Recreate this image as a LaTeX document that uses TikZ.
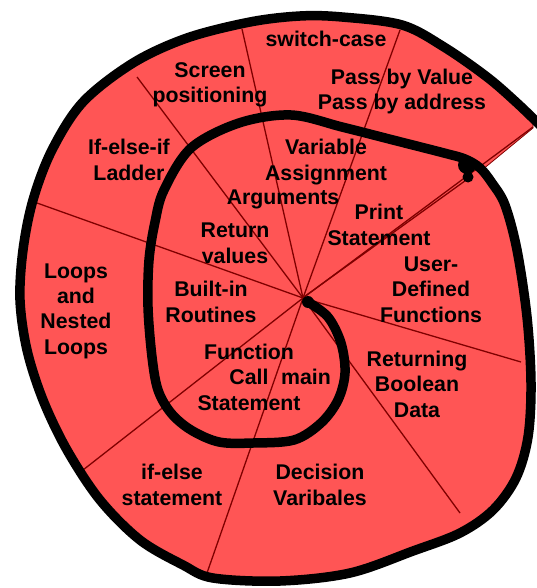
\documentclass[tikz,border=0pt]{standalone}
\usepackage{fontspec}
\setmainfont{Liberation Sans}
\definecolor{wedgered}{RGB}{255,85,85}
\definecolor{sepred}{RGB}{128,0,0}
\begin{document}
\begin{tikzpicture}[x=1pt,y=-1pt,
  lbl/.style={font=\fontsize{21.3}{25.3}\selectfont\bfseries, align=center, anchor=base, inner sep=0pt, text=black},
  sepline/.style={draw=sepred, line width=1.3pt},
  spiralline/.style={draw=black, line width=9.5pt, line cap=round, line join=round},
  redfill/.style={fill=wedgered, draw=sepred, line width=0.8pt}]
\useasboundingbox (0,0) rectangle (536,588);

% red wedge area
\fill[redfill] plot[smooth, tension=0.55] coordinates {(478,170) (492,183) (505,205) (517,250) (527,317) (531,383) (528,437) (516,478) (493,510) (460,533) (413,551) (350,573) (280,581) (213,578) (183,565) (140,540) (100,500) (67,450) (43,400) (27,350) (20,300) (23,250) (33,200) (52,150) (83,102) (133,63) (187,38) (250,22) (300,16) (342,17) (402,25) (444,47) (487,77) (517,103) (533,124)} -- (533,128) -- (482,170) -- cycle;
% Returning Boolean wedge protrusion
\fill[wedgered] (303,298) -- (522,362) -- (530,365) -- (531,440) -- (470,528) -- cycle;

% separators
\coordinate (c) at (303,298);
\coordinate (e1) at (137,77);
\coordinate (e2) at (242,29);
\coordinate (e3) at (400,30);
\coordinate (e4) at (533,127);
\coordinate (e5) at (37,203);
\coordinate (e6) at (83,470);
\coordinate (e7) at (207,573);
\coordinate (e8) at (460,513);
\coordinate (e9) at (521,362);
\coordinate (e4b) at (468,180);
\foreach \e in {e1,e2,e3,e4,e5,e6,e7,e8,e9}{\draw[sepline] (c) -- (\e);}
\draw[sepline] ([xshift=1.5pt,yshift=1.5pt]c) -- ([xshift=1pt,yshift=2pt]e4b);

% black spiral
\draw[spiralline] plot[smooth, tension=0.55] coordinates {(308,302) (328,317) (341,343) (345,373) (338,400) (321,423) (294,440) (253,443) (219,442) (191,430) (171,413) (158,390) (152,357) (148,307) (149,260) (155,222) (164,190) (191,148) (239,123) (291,115) (342,127) (393,140) (444,153) (465,159) (480,168) (492,183) (505,205) (517,250) (527,317) (531,383) (528,437) (516,478) (493,510) (460,533) (413,551) (350,573) (280,581) (213,578) (183,565) (140,540) (100,500) (67,450) (43,400) (27,350) (20,300) (23,250) (33,200) (52,150) (83,102) (133,63) (187,38) (250,22) (300,16) (342,17) (402,25) (444,47) (487,77) (517,103) (545,130)};
\fill[black] (308,302) circle (6);
\fill[black] (467,165) circle (9);
\fill[black] (468,177) circle (5.5);

% labels (anchor = baseline of the last line)
\node[lbl] (switch) at (326,47) {switch-case};
\node[lbl] (screen) at (210,103) {Screen\\positioning};
\node[lbl] (pass) at (402,110) {Pass by Value\\Pass by address};
\node[lbl] (ifelseif) at (129,180) {If-else-if\\Ladder};
\node[lbl] (variable) at (326,180) {Variable\\Assignment};
\node[lbl] (arguments) at (283,204) {Arguments};
\node[lbl] (print) at (379,245) {Print\\Statement};
\node[lbl] (return) at (235,263) {Return\\values};
\node[lbl] (user) at (431,322) {User-\\Defined\\Functions};
\node[lbl] (loops) at (76,354) {Loops\\and\\Nested\\Loops};
\node[lbl] (builtin) at (211,322) {Built-in\\Routines};
\node[lbl] (function) at (249,410) {Function\\Call\\Statement};
\node[lbl] (main) at (306,384) {main};
\node[lbl] (returning) at (417,417) {Returning\\Boolean\\Data};
\node[lbl] (ifelse) at (172,505) {if-else\\statement};
\node[lbl] (decision) at (320,505) {Decision\\Varibales};
\end{tikzpicture}
\end{document}
